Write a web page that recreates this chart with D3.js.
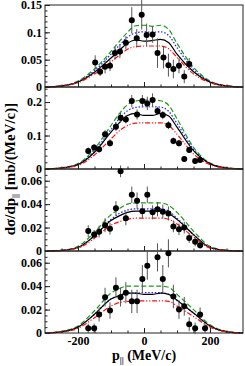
<!DOCTYPE html>
<html lang="en">
<head>
  <meta charset="UTF-8">
  <script src="https://d3js.org/d3.v7.min.js"></script>
  <title>momentum distributions</title>
  <style>
    body { margin: 0; background: #fff; }
    svg text { font-family: "Liberation Serif", "DejaVu Serif", serif; font-weight: bold; fill: #000; }
  </style>
</head>
<body>
  <script>
    // p|| grid for the calculated curves (MeV/c)
    const curveP = [-300, -250, -200, -150, -100, -75, -50, -25, 0, 25, 50, 75, 100, 150, 200, 250, 300]

    // panel 1
    const p1Green = [0, 0.002, 0.011, 0.033, 0.065, 0.083, 0.100, 0.112, 0.113, 0.111, 0.113, 0.105, 0.080, 0.036, 0.011, 0.002, 0]
    const p1Blue  = [0, 0.002, 0.010, 0.030, 0.060, 0.076, 0.091, 0.099, 0.101, 0.100, 0.101, 0.094, 0.072, 0.032, 0.010, 0.002, 0]
    const p1Black = [0, 0.002, 0.009, 0.027, 0.053, 0.067, 0.080, 0.086, 0.084, 0.085, 0.087, 0.081, 0.060, 0.028, 0.009, 0.002, 0]
    const p1Red   = [0, 0.002, 0.008, 0.024, 0.046, 0.058, 0.069, 0.074, 0.075, 0.075, 0.075, 0.070, 0.054, 0.024, 0.008, 0.002, 0]
    const p1DataP = [-148, -133, -118, -103, -88, -73, -55, -37, -22, -7, 8, 26, 41, 59, 74, 89, 106, 122, 137]
    const p1DataY = [0.045, 0.028, 0.037, 0.039, 0.062, 0.065, 0.081, 0.122, 0.089, 0.132, 0.095, 0.096, 0.062, 0.054, 0.040, 0.033, 0.039, 0.019, 0.042]
    const p1DataE = [0.013, 0.008, 0.012, 0.010, 0.012, 0.012, 0.012, 0.024, 0.017, 0.027, 0.021, 0.015, 0.027, 0.020, 0.021, 0.017, 0.014, 0.012, 0.011]

    // panel 2
    const p2Green = [0, 0.004, 0.016, 0.060, 0.130, 0.165, 0.192, 0.203, 0.206, 0.206, 0.204, 0.190, 0.150, 0.065, 0.018, 0.004, 0]
    const p2Blue  = [0, 0.003, 0.014, 0.054, 0.118, 0.150, 0.174, 0.184, 0.186, 0.186, 0.185, 0.172, 0.136, 0.059, 0.016, 0.003, 0]
    const p2Black = [0, 0.003, 0.013, 0.050, 0.110, 0.138, 0.160, 0.166, 0.160, 0.160, 0.166, 0.158, 0.125, 0.055, 0.016, 0.003, 0]
    const p2Red   = [0, 0.003, 0.011, 0.042, 0.090, 0.114, 0.130, 0.137, 0.138, 0.138, 0.138, 0.130, 0.104, 0.045, 0.013, 0.003, 0]
    const p2DataP = [-169, -151, -136, -118, -103, -85, -71, -55, -37, -21, -5, 10, 26, 41, 57, 74, 89, 106, 122, 137, 155, 170]
    const p2DataY = [0.054, 0.064, 0.059, 0.104, 0.077, 0.126, 0.153, 0.148, 0.203, 0.163, 0.203, 0.196, 0.206, 0.173, 0.161, 0.131, 0.084, 0.077, 0.030, 0.057, 0.024, 0.027]
    const p2DataE = [0.010, 0.010, 0.010, 0.012, 0.010, 0.012, 0.015, 0.012, 0.018, 0.015, 0.018, 0.020, 0.020, 0.012, 0.012, 0.012, 0.010, 0.010, 0.005, 0.008, 0.005, 0.006]

    // panel 3
    const p3Green = [0, 0.0006, 0.004, 0.016, 0.031, 0.036, 0.040, 0.041, 0.041, 0.041, 0.041, 0.039, 0.033, 0.017, 0.004, 0.0006, 0]
    const p3Blue  = [0, 0.0005, 0.003, 0.013, 0.027, 0.032, 0.035, 0.036, 0.036, 0.036, 0.036, 0.034, 0.028, 0.014, 0.003, 0.0005, 0]
    const p3Black = [0, 0.0005, 0.003, 0.013, 0.026, 0.030, 0.033, 0.034, 0.034, 0.034, 0.034, 0.032, 0.027, 0.014, 0.003, 0.0005, 0]
    const p3Red   = [0, 0.0004, 0.0025, 0.011, 0.022, 0.025, 0.027, 0.028, 0.028, 0.028, 0.028, 0.027, 0.023, 0.012, 0.0025, 0.0004, 0]
    const p3DataP = [-169, -151, -136, -118, -103, -85, -71, -55, -37, -21, -5, 10, 26, 41, 57, 74, 89, 106, 122, 137, 155, 170]
    const p3DataY = [0.017, 0.014, 0.0165, 0.022, 0.019, 0.0365, 0.068, 0.028, 0.048, 0.043, 0.034, 0.048, 0.033, 0.0356, 0.0336, 0.032, 0.021, 0.0185, 0.020, 0.011, 0.008, 0.005]
    const p3DataE = [0.005, 0.004, 0.005, 0.006, 0.005, 0.006, 0.005, 0.006, 0.007, 0.007, 0.006, 0.007, 0.006, 0.006, 0.006, 0.006, 0.005, 0.005, 0.005, 0.004, 0.004, 0.003]

    // panel 4
    const p4Green = [0, 0.0015, 0.006, 0.019, 0.034, 0.038, 0.040, 0.040, 0.040, 0.040, 0.040, 0.039, 0.033, 0.020, 0.007, 0.0015, 0]
    const p4Blue  = [0, 0.001, 0.005, 0.016, 0.029, 0.032, 0.034, 0.034, 0.0345, 0.0345, 0.0345, 0.033, 0.028, 0.017, 0.006, 0.001, 0]
    const p4Black = [0, 0.001, 0.005, 0.016, 0.029, 0.032, 0.034, 0.034, 0.033, 0.033, 0.034, 0.033, 0.028, 0.017, 0.006, 0.001, 0]
    const p4Red   = [0, 0.001, 0.004, 0.013, 0.023, 0.026, 0.027, 0.0275, 0.0275, 0.0275, 0.0275, 0.027, 0.023, 0.014, 0.005, 0.001, 0]
    const p4DataP = [-169, -151, -136, -118, -103, -85, -71, -55, -37, -21, -5, 10, 41, 57, 74, 89, 106, 122, 137, 155, 170, 185]
    const p4DataY = [0.004, 0.004, 0.0158, 0.0306, 0.0192, 0.0386, 0.0306, 0.0344, 0.027, 0.027, 0.046, 0.0575, 0.0646, 0.046, 0.068, 0.0311, 0.020, 0.0228, 0.0075, 0.004, 0.0158, 0.004]
    const p4DataE = [0.004, 0.004, 0.006, 0.008, 0.007, 0.009, 0.008, 0.009, 0.010, 0.010, 0.012, 0.012, 0.012, 0.012, 0.012, 0.010, 0.008, 0.008, 0.006, 0.005, 0.006, 0.004]

    // axes
    const yMaxes = [0.15, 0.245, 0.07, 0.07]
    const yMajorTicks = [[0, 0.05, 0.1, 0.15], [0, 0.1, 0.2], [0, 0.02, 0.04, 0.06], [0, 0.02, 0.04, 0.06]]
    const yTickLabels = [["0", "0.05", "0.1", "0.15"], ["0", "0.1", "0.2"], ["0", "0.02", "0.04", "0.06"], ["0", "0.02", "0.04", "0.06"]]
    const yMinorStep = [0.01, 0.02, 0.005, 0.005]
    const xMajorTicks = [-200, 0, 200]
    const xTickLabels = ["-200", "0", "200"]
    const xMinorTicks = [-250, -150, -100, -50, 50, 100, 150, 250]

    const panels = [
      { curves: [p1Green, p1Blue, p1Black, p1Red], dp: p1DataP, dy: p1DataY, de: p1DataE },
      { curves: [p2Green, p2Blue, p2Black, p2Red], dp: p2DataP, dy: p2DataY, de: p2DataE },
      { curves: [p3Green, p3Blue, p3Black, p3Red], dp: p3DataP, dy: p3DataY, de: p3DataE },
      { curves: [p4Green, p4Blue, p4Black, p4Red], dp: p4DataP, dy: p4DataY, de: p4DataE }
    ]

    const curveStyles = [
      { color: "#1a9a1a", dash: "5,2.5" },
      { color: "#2020ff", dash: "1.5,1.8" },
      { color: "#000", dash: null },
      { color: "#ff1010", dash: "5,1.8,1.2,1.8,1.2,1.8" }
    ]

    const dim = { width: 245, height: 366, left: 45, right: 243, top: 5, panelH: 82 }

    const svg = d3.select("body").append("svg")
        .attr("width", dim.width)
        .attr("height", dim.height)

    const xScale = d3.scaleLinear().domain([-300, 300]).range([dim.left, dim.right])

    const curveLayer = svg.append("g")
    const axisLayer = svg.append("g")
    const dataLayer = svg.append("g")

    panels.forEach((panel, i) => {
      const y0 = dim.top + i * dim.panelH
      const yScale = d3.scaleLinear().domain([0, yMaxes[i]]).range([y0 + dim.panelH, y0])

      // frame
      axisLayer.append("rect")
          .attr("x", dim.left).attr("y", y0)
          .attr("width", dim.right - dim.left).attr("height", dim.panelH)
          .attr("fill", "none").attr("stroke", "#222").attr("stroke-width", 1)

      // y axis, ticks pointing inward
      const yAxis = axisLayer.append("g")
          .attr("transform", `translate(${dim.left},0)`)
          .call(d3.axisLeft(yScale).tickValues(yMajorTicks[i]).tickSize(-5).tickPadding(3)
                .tickFormat((d, k) => yTickLabels[i][k]))
      yAxis.select(".domain").remove()
      yAxis.selectAll("text").attr("font-size", 12).attr("font-family", null)

      const minor = d3.range(0, yMaxes[i] + 1e-9, yMinorStep[i])
      const yMinor = axisLayer.append("g")
          .attr("transform", `translate(${dim.left},0)`)
          .call(d3.axisLeft(yScale).tickValues(minor).tickSize(-2.5).tickFormat(""))
      yMinor.select(".domain").remove()

      // x axis at panel bottom
      const xAxis = axisLayer.append("g")
          .attr("transform", `translate(0,${y0 + dim.panelH})`)
          .call(d3.axisBottom(xScale).tickValues(xMajorTicks).tickSize(-5).tickPadding(3)
                .tickFormat((d, k) => i === 3 ? xTickLabels[k] : ""))
      xAxis.select(".domain").remove()
      xAxis.selectAll("text").attr("font-size", 12).attr("font-family", null)

      const xMinor = axisLayer.append("g")
          .attr("transform", `translate(0,${y0 + dim.panelH})`)
          .call(d3.axisBottom(xScale).tickValues(xMinorTicks).tickSize(-2.5).tickFormat(""))
      xMinor.select(".domain").remove()

      // curves
      const line = d3.line()
          .x((d, k) => xScale(curveP[k]))
          .y(d => yScale(d))
          .curve(d3.curveMonotoneX)

      panel.curves.forEach((c, k) => {
        curveLayer.append("path")
            .attr("d", line(c))
            .attr("fill", "none")
            .attr("stroke", curveStyles[k].color)
            .attr("stroke-width", 1.2)
            .attr("stroke-dasharray", curveStyles[k].dash)
      })

      // data points with error bars
      const g = dataLayer.append("g")
      g.selectAll("line")
        .data(panel.dy)
        .join("line")
          .attr("x1", (d, k) => xScale(panel.dp[k]))
          .attr("x2", (d, k) => xScale(panel.dp[k]))
          .attr("y1", (d, k) => yScale(d - panel.de[k]))
          .attr("y2", (d, k) => yScale(d + panel.de[k]))
          .attr("stroke", "#555")
          .attr("stroke-width", 1)

      g.selectAll("circle")
        .data(panel.dy)
        .join("circle")
          .attr("cx", (d, k) => xScale(panel.dp[k]))
          .attr("cy", d => yScale(d))
          .attr("r", 3)
          .attr("fill", "#000")
    })

    axisLayer.selectAll(".tick line").attr("stroke", "#222")

    // axis titles
    const yTitle = svg.append("text")
        .attr("transform", `translate(15,${dim.top + 2 * dim.panelH}) rotate(-90)`)
        .attr("text-anchor", "middle")
        .attr("font-size", 15)
    yTitle.append("tspan").text("dσ/dp")
    yTitle.append("tspan").attr("dy", 3).attr("font-size", 9).text("||")
    yTitle.append("tspan").attr("dy", -3).text(" [mb/(MeV/c)]")

    const xTitle = svg.append("text")
        .attr("x", 144).attr("y", 360)
        .attr("text-anchor", "middle")
        .attr("font-size", 14)
    xTitle.append("tspan").text("p")
    xTitle.append("tspan").attr("dy", 3).attr("font-size", 9).text("||")
    xTitle.append("tspan").attr("dy", -3).text("  (MeV/c)")
  </script>
</body>
</html>
